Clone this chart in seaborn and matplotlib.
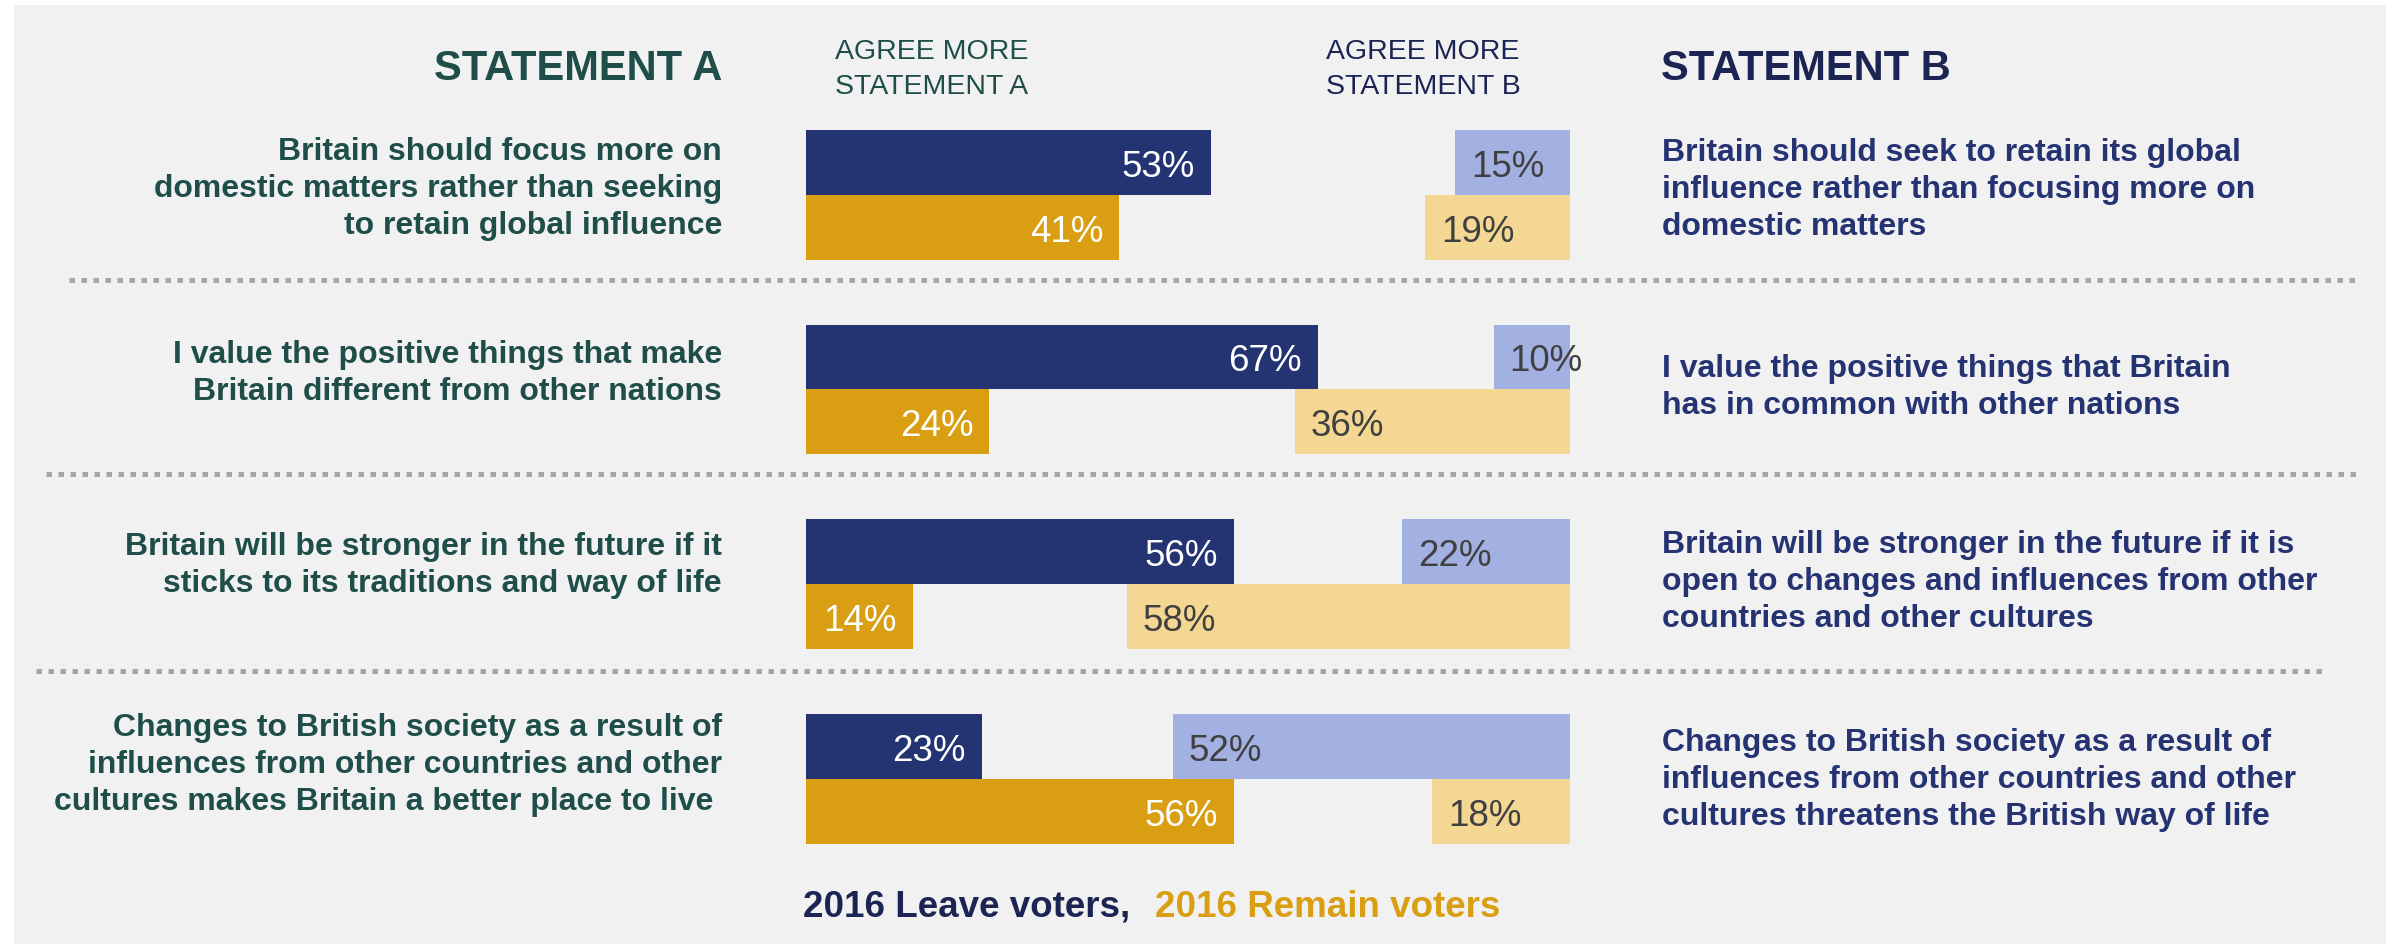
import pandas as pd
import seaborn as sns
import matplotlib.pyplot as plt
from matplotlib.patches import Rectangle

# statements (left = A, right = B), one per row
statement_a = [
    "Britain should focus more on\ndomestic matters rather than seeking\nto retain global influence",
    "I value the positive things that make\nBritain different from other nations",
    "Britain will be stronger in the future if it\nsticks to its traditions and way of life",
    "Changes to British society as a result of\ninfluences from other countries and other\ncultures makes Britain a better place to live ",
]
statement_b = [
    "Britain should seek to retain its global\ninfluence rather than focusing more on\ndomestic matters",
    "I value the positive things that Britain\nhas in common with other nations",
    "Britain will be stronger in the future if it is\nopen to changes and influences from other\ncountries and other cultures",
    "Changes to British society as a result of\ninfluences from other countries and other\ncultures threatens the British way of life",
]
groups = ["2016 Leave voters", "2016 Remain voters"]
leave_a = [53, 67, 56, 23]
remain_a = [41, 24, 14, 56]
leave_b = [15, 10, 22, 52]
remain_b = [19, 36, 58, 18]

NAVY = "#243372"
NAVY_LIGHT = "#a2b0e2"
GOLD = "#d99e11"
GOLD_LIGHT = "#f5d794"
TEAL = "#1f4e4a"
NAVY_TXT = "#253372"
NAVY_DARK = "#1b2452"
GREY_TXT = "#404040"
BG = "#f1f1f1"

rows = [f"q{i}" for i in range(len(leave_a))]
df = pd.DataFrame({
    "row": rows * 2,
    "group": [groups[0]] * len(rows) + [groups[1]] * len(rows),
    "a": leave_a + remain_a,
    "b": leave_b + remain_b,
})

plt.rcParams["font.family"] = ["Liberation Sans", "DejaVu Sans"]

fig = plt.figure(figsize=(23.94, 9.45), dpi=100, facecolor="white")
fig.add_artist(Rectangle((0.00585, 0.0), 0.9908, 0.9937, transform=fig.transFigure,
                         facecolor=BG, edgecolor="none", zorder=-10))

ax = fig.add_axes([0.33668, 0.0715, 0.31913, 0.8245])
ax.set_facecolor("none")

# agree more with A: bars grow from the left
sns.barplot(data=df, x="a", y="row", hue="group", hue_order=groups, orient="h",
            palette=[NAVY, GOLD], saturation=1, width=0.667, errorbar=None,
            legend=False, linewidth=0, ax=ax)

# agree more with B: same rows, x axis reversed so bars grow from the right
ax2 = ax.twiny()
sns.barplot(data=df, x="b", y="row", hue="group", hue_order=groups, orient="h",
            palette=[NAVY_LIGHT, GOLD_LIGHT], saturation=1, width=0.667, errorbar=None,
            legend=False, linewidth=0, ax=ax2)

ax.set_xlim(0, 100)
ax2.set_xlim(100, 0)
ax.set_ylim(len(rows) - 0.5, -0.5)

for a in (ax, ax2):
    a.set_xlabel("")
    a.set_ylabel("")
    a.set_xticks([])
    a.set_yticks([])
    for s in a.spines.values():
        s.set_visible(False)

for cont in ax.containers:
    for bar, v in zip(cont, cont.datavalues):
        ax.annotate(f"{v:.0f}%", (bar.get_x() + bar.get_width(), bar.get_y() + bar.get_height() / 2),
                    xytext=(-16, 0), textcoords="offset pixels", ha="right",
                    va="center_baseline", fontsize=26.5, color="white")
for cont in ax2.containers:
    for bar, v in zip(cont, cont.datavalues):
        ax2.annotate(f"{v:.0f}%", (bar.get_x() + bar.get_width(), bar.get_y() + bar.get_height() / 2),
                     xytext=(16, 0), textcoords="offset pixels", ha="left",
                     va="center_baseline", fontsize=26.5, color=GREY_TXT)

# dotted separators between rows
for y, x0, x1 in [(0.438, -0.965, 2.033), (1.434, -0.995, 2.033), (2.445, -1.008, 1.988)]:
    ax.axhline(y, x0, x1, clip_on=False, color="#a6a6a6", lw=3.6,
               linestyle=(0, (1.1, 1.3)))

# statement texts
yt = ax.get_yaxis_transform()
left_dy = [-0.034, -0.085, -0.10, -0.077]
right_dy = [-0.029, -0.013, -0.017, 0.0]
for i, (ta, tb) in enumerate(zip(statement_a, statement_b)):
    ax.text(-0.110, i + left_dy[i], ta, transform=yt, ha="right", va="center",
            multialignment="right", fontsize=23, fontweight="bold", color=TEAL,
            linespacing=1.3)
    ax.text(1.1204, i + right_dy[i], tb, transform=yt, ha="left", va="center",
            multialignment="left", fontsize=23, fontweight="bold", color=NAVY_TXT,
            linespacing=1.3)

# headers
fig.text(722 / 2394, 1 - 79.5 / 945, "STATEMENT A", ha="right", va="baseline",
         fontsize=30, fontweight="bold", color=TEAL)
fig.text(1661 / 2394, 1 - 79.5 / 945, "STATEMENT B", ha="left", va="baseline",
         fontsize=30, fontweight="bold", color=NAVY_DARK)
fig.text(932 / 2394, 1 - 69.3 / 945, "AGREE MORE\nSTATEMENT A", ha="center", va="center",
         multialignment="center", fontsize=20.5, color=TEAL, linespacing=1.45)
fig.text(1423 / 2394, 1 - 69.3 / 945, "AGREE MORE\nSTATEMENT B", ha="center", va="center",
         multialignment="center", fontsize=20.5, color=NAVY_DARK, linespacing=1.45)

# legend as coloured words
fig.text(803 / 2394, 1 - 916.7 / 945, groups[0] + ",", ha="left", va="baseline",
         fontsize=26.5, fontweight="bold", color=NAVY_DARK)
fig.text(1155 / 2394, 1 - 916.7 / 945, groups[1], ha="left", va="baseline",
         fontsize=26.5, fontweight="bold", color=GOLD)

fig.savefig("out.png", dpi=100, facecolor=fig.get_facecolor())
